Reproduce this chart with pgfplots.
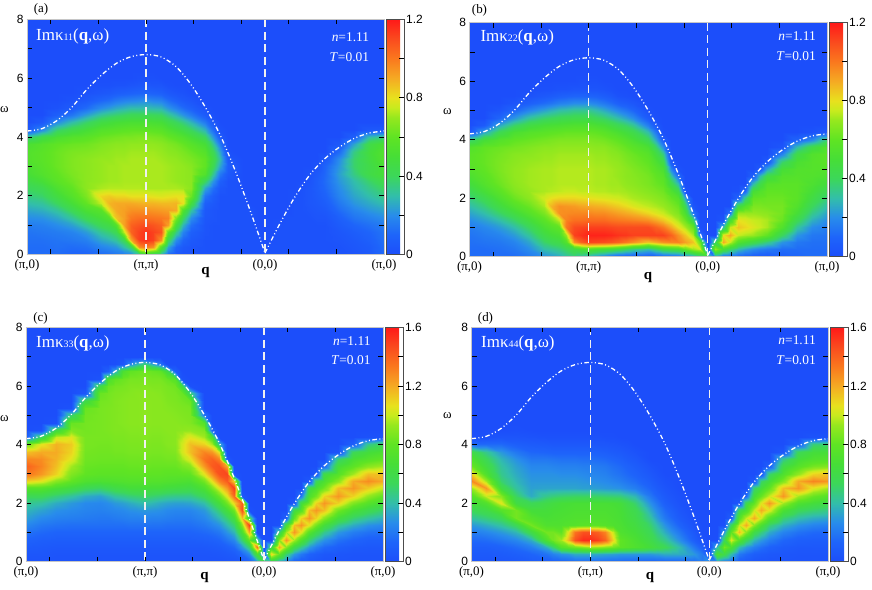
\documentclass[border=0pt]{standalone}
\usepackage{fontspec}
\setmainfont{Liberation Serif}
\newfontfamily\sansfont{Liberation Sans}
\usepackage{pgfplots}
\usepackage{pgfplotstable}
\pgfplotsset{compat=1.18}
\definecolor{bgblue}{RGB}{28,78,250}
\pgfplotsset{
 colormap={myjet}{rgb255(0cm)=(28,78,250) rgb255(2cm)=(30,100,250) rgb255(4cm)=(40,140,235) rgb255(6cm)=(50,190,170) rgb255(8cm)=(60,215,90) rgb255(10cm)=(70,222,55) rgb255(12cm)=(95,228,35) rgb255(14cm)=(150,232,30) rgb255(15cm)=(200,235,30) rgb255(16cm)=(232,225,30) rgb255(18cm)=(245,170,35) rgb255(20cm)=(250,120,30) rgb255(22cm)=(250,75,30) rgb255(24cm)=(255,25,25)},
 panel/.style={
  scale only axis, enlargelimits=false, xmin=0, xmax=3, ymin=0, ymax=8,
  anchor=south west,
  axis on top, axis background/.style={fill=bgblue},
  colormap name=myjet,
  tick align=inside, major tick length=5bp, minor tick length=5bp,
  tick style={black, line width=0.7bp},
  axis line style={draw=gray!45, line width=0.5bp},
  xtick={0.2,0.6,1,1.4,1.8,2.2,2.6}, xticklabels={,,,,,,},
  extra x ticks={0,1,2,3},
  extra x tick labels={{(π,0)},{(π,π)},{(0,0)},{(π,0)}},
  extra x tick style={major tick length=0pt, xticklabel style={font=\fontsize{13}{13}\selectfont, yshift=-1bp}},
  ytick={0,2,4,6,8}, yticklabels={0,2,4,6,8}, minor ytick={1,3,5,7},
  yticklabel style={font=\sansfont\fontsize{12}{12}\selectfont},
  colorbar,
  colorbar shift/.style={xshift=2bp},
  colorbar style={
   at={(parent axis.north east)}, anchor=north west,
   width=18bp, scale only axis,
   ytick pos=right, yticklabel pos=right,
   tick align=inside, major tick length=5bp, minor tick length=5bp,
   tick style={black, line width=0.7bp},
   axis line style={draw=gray!60!black, line width=0.6bp},
   yticklabel style={font=\sansfont\fontsize{12}{12}\selectfont, inner sep=2bp},
  },
 },
 vdash/.style={white!88!gray, line width=1.2bp, dash pattern=on 8bp off 4.5bp},
 bound/.style={white, line width=1.3bp, smooth, dash pattern=on 4.5bp off 2.5bp on 1bp off 2.5bp on 1bp off 2.5bp},
}
\pgfplotstableread{
x y a b c d
0 0 0.12 0.12 0.03 0.05
0 0.25 0.12 0.12 0.05 0.07
0 0.5 0.13 0.13 0.08 0.1
0 0.75 0.14 0.14 0.12 0.15
0 1 0.16 0.16 0.18 0.22
0 1.25 0.2 0.2 0.25 0.3
0 1.5 0.25 0.25 0.32 0.42
0 1.75 0.3 0.3 0.38 0.55
0 2 0.35 0.36 0.45 0.65
0 2.25 0.4 0.42 0.55 0.75
0 2.5 0.45 0.48 0.75 0.95
0 2.75 0.5 0.53 1.1 1.3
0 3 0.52 0.56 1.35 1.1
0 3.25 0.55 0.58 1.4 0.82
0 3.5 0.55 0.58 1.3 0.72
0 3.75 0.52 0.55 1.15 0.6
0 4 0.35 0.38 0.85 0.15
0 4.25 0.05 0.05 0.1 0
0 4.5 0 0 0 0
0 4.75 0 0 0 0
0 5 0 0 0 0
0 5.25 0 0 0 0
0 5.5 0 0 0 0
0 5.75 0 0 0 0
0 6 0 0 0 0
0 6.25 0 0 0 0
0 6.5 0 0 0 0
0 6.75 0 0 0 0
0 7 0 0 0 0
0.125 0 0.12 0.12 0.03 0.05
0.125 0.25 0.12 0.12 0.05 0.07
0.125 0.5 0.13 0.14 0.07 0.1
0.125 0.75 0.15 0.16 0.1 0.16
0.125 1 0.17 0.19 0.15 0.25
0.125 1.25 0.21 0.24 0.2 0.35
0.125 1.5 0.27 0.3 0.26 0.48
0.125 1.75 0.32 0.36 0.33 0.6
0.125 2 0.38 0.43 0.42 0.72
0.125 2.25 0.43 0.5 0.55 1
0.125 2.5 0.5 0.55 0.75 1.25
0.125 2.75 0.55 0.58 1.05 0.95
0.125 3 0.57 0.6 1.25 0.72
0.125 3.25 0.58 0.61 1.3 0.62
0.125 3.5 0.58 0.61 1.28 0.55
0.125 3.75 0.56 0.6 1.2 0.45
0.125 4 0.45 0.5 1.05 0.15
0.125 4.25 0.2 0.25 0.55 0.02
0.125 4.5 0.05 0.06 0.02 0
0.125 4.75 0 0 0 0
0.125 5 0 0 0 0
0.125 5.25 0 0 0 0
0.125 5.5 0 0 0 0
0.125 5.75 0 0 0 0
0.125 6 0 0 0 0
0.125 6.25 0 0 0 0
0.125 6.5 0 0 0 0
0.125 6.75 0 0 0 0
0.125 7 0 0 0 0
0.25 0 0.12 0.12 0.03 0.05
0.25 0.25 0.13 0.13 0.04 0.08
0.25 0.5 0.14 0.15 0.06 0.12
0.25 0.75 0.16 0.18 0.09 0.2
0.25 1 0.2 0.23 0.13 0.3
0.25 1.25 0.25 0.3 0.18 0.42
0.25 1.5 0.32 0.38 0.23 0.55
0.25 1.75 0.4 0.46 0.28 0.75
0.25 2 0.47 0.53 0.35 1.05
0.25 2.25 0.53 0.58 0.48 0.9
0.25 2.5 0.58 0.62 0.68 0.62
0.25 2.75 0.6 0.64 0.9 0.5
0.25 3 0.62 0.65 1.1 0.45
0.25 3.25 0.62 0.65 1.15 0.42
0.25 3.5 0.62 0.64 1.18 0.38
0.25 3.75 0.6 0.62 1.2 0.3
0.25 4 0.52 0.56 1.18 0.15
0.25 4.25 0.38 0.42 1 0.04
0.25 4.5 0.2 0.25 0.6 0
0.25 4.75 0.08 0.1 0.02 0
0.25 5 0.02 0.03 0 0
0.25 5.25 0 0 0 0
0.25 5.5 0 0 0 0
0.25 5.75 0 0 0 0
0.25 6 0 0 0 0
0.25 6.25 0 0 0 0
0.25 6.5 0 0 0 0
0.25 6.75 0 0 0 0
0.25 7 0 0 0 0
0.375 0 0.1 0.12 0.03 0.06
0.375 0.25 0.12 0.15 0.04 0.1
0.375 0.5 0.15 0.18 0.06 0.16
0.375 0.75 0.18 0.23 0.09 0.25
0.375 1 0.24 0.3 0.13 0.38
0.375 1.25 0.32 0.38 0.17 0.55
0.375 1.5 0.42 0.47 0.22 0.85
0.375 1.75 0.5 0.55 0.26 0.85
0.375 2 0.56 0.62 0.3 0.62
0.375 2.25 0.6 0.66 0.42 0.52
0.375 2.5 0.63 0.68 0.62 0.42
0.375 2.75 0.65 0.69 0.8 0.38
0.375 3 0.66 0.69 0.88 0.35
0.375 3.25 0.66 0.68 0.95 0.32
0.375 3.5 0.65 0.67 1.05 0.28
0.375 3.75 0.62 0.64 1.1 0.2
0.375 4 0.56 0.6 1.12 0.1
0.375 4.25 0.45 0.52 1.05 0.04
0.375 4.5 0.3 0.38 0.88 0.01
0.375 4.75 0.15 0.22 0.82 0
0.375 5 0.06 0.1 0.5 0
0.375 5.25 0.02 0.03 0.02 0
0.375 5.5 0 0 0 0
0.375 5.75 0 0 0 0
0.375 6 0 0 0 0
0.375 6.25 0 0 0 0
0.375 6.5 0 0 0 0
0.375 6.75 0 0 0 0
0.375 7 0 0 0 0
0.5 0 0.1 0.15 0.03 0.08
0.5 0.25 0.13 0.2 0.04 0.13
0.5 0.5 0.17 0.25 0.06 0.22
0.5 0.75 0.23 0.32 0.09 0.35
0.5 1 0.32 0.4 0.13 0.6
0.5 1.25 0.42 0.48 0.17 0.85
0.5 1.5 0.52 0.56 0.21 0.75
0.5 1.75 0.6 0.62 0.24 0.65
0.5 2 0.65 0.68 0.26 0.55
0.5 2.25 0.68 0.7 0.35 0.35
0.5 2.5 0.68 0.71 0.55 0.32
0.5 2.75 0.68 0.71 0.72 0.3
0.5 3 0.68 0.71 0.8 0.28
0.5 3.25 0.68 0.7 0.82 0.25
0.5 3.5 0.66 0.68 0.84 0.2
0.5 3.75 0.63 0.66 0.85 0.14
0.5 4 0.58 0.62 0.86 0.08
0.5 4.25 0.5 0.56 0.86 0.03
0.5 4.5 0.38 0.46 0.85 0
0.5 4.75 0.24 0.32 0.85 0
0.5 5 0.12 0.18 0.84 0
0.5 5.25 0.05 0.08 0.82 0
0.5 5.5 0.02 0.02 0.6 0
0.5 5.75 0 0 0.05 0
0.5 6 0 0 0 0
0.5 6.25 0 0 0 0
0.5 6.5 0 0 0 0
0.5 6.75 0 0 0 0
0.5 7 0 0 0 0
0.625 0 0.12 0.2 0.03 0.1
0.625 0.25 0.18 0.3 0.04 0.18
0.625 0.5 0.25 0.38 0.06 0.35
0.625 0.75 0.33 0.45 0.09 0.7
0.625 1 0.42 0.52 0.13 0.85
0.625 1.25 0.5 0.58 0.17 0.72
0.625 1.5 0.57 0.65 0.2 0.68
0.625 1.75 0.75 0.72 0.23 0.65
0.625 2 0.82 0.76 0.25 0.6
0.625 2.25 0.72 0.72 0.32 0.45
0.625 2.5 0.7 0.72 0.52 0.33
0.625 2.75 0.7 0.72 0.7 0.3
0.625 3 0.7 0.72 0.78 0.28
0.625 3.25 0.7 0.71 0.81 0.25
0.625 3.5 0.68 0.7 0.83 0.2
0.625 3.75 0.66 0.68 0.84 0.13
0.625 4 0.62 0.64 0.85 0.07
0.625 4.25 0.56 0.58 0.86 0.02
0.625 4.5 0.46 0.5 0.86 0
0.625 4.75 0.33 0.38 0.86 0
0.625 5 0.2 0.24 0.86 0
0.625 5.25 0.1 0.12 0.86 0
0.625 5.5 0.04 0.05 0.85 0
0.625 5.75 0.01 0.01 0.82 0
0.625 6 0 0 0.6 0
0.625 6.25 0 0 0.03 0
0.625 6.5 0 0 0 0
0.625 6.75 0 0 0 0
0.625 7 0 0 0 0
0.6875 0 0.13 0.22 0.03 0.11
0.6875 0.25 0.2 0.32 0.04 0.23
0.6875 0.5 0.28 0.42 0.06 0.5
0.6875 0.75 0.37 0.49 0.09 0.85
0.6875 1 0.46 0.56 0.13 0.85
0.6875 1.25 0.55 0.64 0.17 0.72
0.6875 1.5 0.8 0.75 0.2 0.69
0.6875 1.75 0.88 0.88 0.24 0.67
0.6875 2 0.84 0.8 0.27 0.63
0.6875 2.25 0.73 0.73 0.37 0.48
0.6875 2.5 0.71 0.72 0.56 0.33
0.6875 2.75 0.71 0.72 0.71 0.3
0.6875 3 0.71 0.72 0.78 0.28
0.6875 3.25 0.7 0.71 0.81 0.24
0.6875 3.5 0.69 0.7 0.83 0.19
0.6875 3.75 0.67 0.68 0.84 0.12
0.6875 4 0.63 0.65 0.85 0.06
0.6875 4.25 0.57 0.59 0.86 0.02
0.6875 4.5 0.48 0.51 0.87 0
0.6875 4.75 0.36 0.4 0.87 0
0.6875 5 0.23 0.27 0.87 0
0.6875 5.25 0.12 0.14 0.87 0
0.6875 5.5 0.05 0.06 0.86 0
0.6875 5.75 0.01 0.01 0.85 0
0.6875 6 0 0 0.82 0
0.6875 6.25 0 0 0.7 0
0.6875 6.5 0 0 0.1 0
0.6875 6.75 0 0 0 0
0.6875 7 0 0 0 0
0.75 0 0.15 0.25 0.03 0.12
0.75 0.25 0.22 0.35 0.04 0.28
0.75 0.5 0.32 0.45 0.06 0.75
0.75 0.75 0.42 0.52 0.09 0.95
0.75 1 0.55 0.6 0.13 0.8
0.75 1.25 0.85 0.75 0.17 0.72
0.75 1.5 0.9 0.95 0.21 0.7
0.75 1.75 0.9 0.95 0.25 0.68
0.75 2 0.82 0.82 0.3 0.66
0.75 2.25 0.73 0.74 0.42 0.5
0.75 2.5 0.71 0.73 0.6 0.33
0.75 2.75 0.71 0.73 0.72 0.3
0.75 3 0.71 0.73 0.78 0.27
0.75 3.25 0.71 0.72 0.81 0.23
0.75 3.5 0.7 0.71 0.83 0.18
0.75 3.75 0.68 0.69 0.85 0.12
0.75 4 0.64 0.66 0.86 0.06
0.75 4.25 0.58 0.6 0.87 0.02
0.75 4.5 0.5 0.52 0.88 0
0.75 4.75 0.38 0.42 0.88 0
0.75 5 0.26 0.3 0.88 0
0.75 5.25 0.15 0.17 0.88 0
0.75 5.5 0.07 0.08 0.88 0
0.75 5.75 0.02 0.02 0.87 0
0.75 6 0 0 0.85 0
0.75 6.25 0 0 0.8 0
0.75 6.5 0 0 0.35 0
0.75 6.75 0 0 0.01 0
0.75 7 0 0 0 0
0.8125 0 0.17 0.3 0.03 0.13
0.8125 0.25 0.3 0.4 0.04 0.3
0.8125 0.5 0.42 0.55 0.06 0.8
0.8125 0.75 0.75 0.7 0.09 1.15
0.8125 1 0.92 1 0.13 1.05
0.8125 1.25 0.92 0.98 0.17 0.74
0.8125 1.5 0.92 0.96 0.22 0.71
0.8125 1.75 0.9 0.94 0.26 0.69
0.8125 2 0.82 0.82 0.32 0.67
0.8125 2.25 0.73 0.75 0.45 0.51
0.8125 2.5 0.72 0.73 0.62 0.33
0.8125 2.75 0.72 0.73 0.73 0.3
0.8125 3 0.72 0.73 0.78 0.27
0.8125 3.25 0.71 0.72 0.81 0.23
0.8125 3.5 0.7 0.71 0.83 0.18
0.8125 3.75 0.68 0.69 0.85 0.12
0.8125 4 0.65 0.66 0.86 0.06
0.8125 4.25 0.59 0.61 0.87 0.02
0.8125 4.5 0.51 0.53 0.88 0
0.8125 4.75 0.4 0.43 0.89 0
0.8125 5 0.28 0.31 0.89 0
0.8125 5.25 0.17 0.18 0.89 0
0.8125 5.5 0.08 0.09 0.89 0
0.8125 5.75 0.02 0.02 0.88 0
0.8125 6 0 0 0.86 0
0.8125 6.25 0 0 0.83 0
0.8125 6.5 0 0 0.7 0
0.8125 6.75 0 0 0.05 0
0.8125 7 0 0 0 0
0.875 0 0.2 0.35 0.03 0.15
0.875 0.25 0.4 0.45 0.04 0.35
0.875 0.5 0.9 0.95 0.06 0.85
0.875 0.75 1.05 1.12 0.09 1.45
0.875 1 1.05 1.1 0.13 1.35
0.875 1.25 1 1.02 0.18 0.75
0.875 1.5 0.95 0.97 0.23 0.72
0.875 1.75 0.9 0.93 0.28 0.7
0.875 2 0.8 0.82 0.35 0.68
0.875 2.25 0.73 0.75 0.48 0.52
0.875 2.5 0.72 0.73 0.65 0.33
0.875 2.75 0.72 0.73 0.74 0.3
0.875 3 0.72 0.73 0.79 0.27
0.875 3.25 0.72 0.72 0.82 0.23
0.875 3.5 0.71 0.71 0.84 0.18
0.875 3.75 0.69 0.69 0.86 0.12
0.875 4 0.65 0.66 0.87 0.06
0.875 4.25 0.6 0.61 0.88 0.02
0.875 4.5 0.52 0.54 0.89 0
0.875 4.75 0.42 0.44 0.9 0
0.875 5 0.3 0.33 0.9 0
0.875 5.25 0.18 0.2 0.9 0
0.875 5.5 0.09 0.1 0.9 0
0.875 5.75 0.03 0.03 0.89 0
0.875 6 0 0 0.88 0
0.875 6.25 0 0 0.86 0
0.875 6.5 0 0 0.8 0
0.875 6.75 0 0 0.25 0
0.875 7 0 0 0 0
0.9375 0 0.35 0.3 0.03 0.15
0.9375 0.25 0.95 0.5 0.04 0.35
0.9375 0.5 1.12 1.05 0.06 0.9
0.9375 0.75 1.12 1.15 0.09 1.55
0.9375 1 1.08 1.11 0.13 1.45
0.9375 1.25 1.02 1.02 0.18 0.77
0.9375 1.5 0.95 0.97 0.23 0.72
0.9375 1.75 0.89 0.91 0.29 0.7
0.9375 2 0.8 0.81 0.38 0.68
0.9375 2.25 0.73 0.74 0.5 0.52
0.9375 2.5 0.72 0.73 0.65 0.32
0.9375 2.75 0.72 0.73 0.74 0.29
0.9375 3 0.72 0.73 0.79 0.26
0.9375 3.25 0.72 0.72 0.82 0.22
0.9375 3.5 0.71 0.71 0.84 0.17
0.9375 3.75 0.69 0.69 0.86 0.12
0.9375 4 0.66 0.66 0.87 0.06
0.9375 4.25 0.6 0.61 0.88 0.02
0.9375 4.5 0.52 0.54 0.89 0
0.9375 4.75 0.42 0.44 0.9 0
0.9375 5 0.3 0.33 0.9 0
0.9375 5.25 0.19 0.2 0.9 0
0.9375 5.5 0.1 0.1 0.9 0
0.9375 5.75 0.04 0.03 0.9 0
0.9375 6 0.01 0.01 0.88 0
0.9375 6.25 0 0 0.86 0
0.9375 6.5 0 0 0.82 0
0.9375 6.75 0 0 0.4 0
0.9375 7 0 0 0 0
1 0 0.5 0.25 0.03 0.15
1 0.25 1 0.55 0.04 0.35
1 0.5 1.15 1.12 0.06 0.95
1 0.75 1.15 1.18 0.09 1.55
1 1 1.1 1.12 0.13 1.45
1 1.25 1.02 1.03 0.18 0.78
1 1.5 0.95 0.97 0.24 0.72
1 1.75 0.88 0.9 0.3 0.7
1 2 0.8 0.8 0.4 0.68
1 2.25 0.72 0.74 0.52 0.52
1 2.5 0.72 0.73 0.66 0.32
1 2.75 0.72 0.73 0.75 0.28
1 3 0.72 0.73 0.8 0.25
1 3.25 0.72 0.72 0.83 0.22
1 3.5 0.71 0.71 0.85 0.17
1 3.75 0.69 0.69 0.87 0.12
1 4 0.66 0.66 0.88 0.06
1 4.25 0.6 0.61 0.89 0.02
1 4.5 0.52 0.54 0.9 0
1 4.75 0.42 0.44 0.91 0
1 5 0.3 0.33 0.91 0
1 5.25 0.2 0.2 0.91 0
1 5.5 0.1 0.1 0.91 0
1 5.75 0.04 0.03 0.9 0
1 6 0.01 0.01 0.89 0
1 6.25 0 0 0.87 0
1 6.5 0 0 0.84 0
1 6.75 0 0 0.5 0
1 7 0 0 0 0
1.0625 0 0.4 0.2 0.03 0.15
1.0625 0.25 0.95 0.52 0.04 0.34
1.0625 0.5 1.12 1.11 0.06 0.93
1.0625 0.75 1.12 1.18 0.09 1.5
1.0625 1 1.08 1.12 0.13 1.4
1.0625 1.25 1.01 1.03 0.18 0.77
1.0625 1.5 0.94 0.96 0.23 0.72
1.0625 1.75 0.88 0.89 0.29 0.7
1.0625 2 0.79 0.79 0.38 0.68
1.0625 2.25 0.72 0.73 0.5 0.51
1.0625 2.5 0.72 0.72 0.65 0.31
1.0625 2.75 0.72 0.72 0.74 0.27
1.0625 3 0.72 0.72 0.79 0.24
1.0625 3.25 0.72 0.71 0.82 0.21
1.0625 3.5 0.71 0.7 0.84 0.16
1.0625 3.75 0.69 0.68 0.86 0.11
1.0625 4 0.65 0.65 0.87 0.05
1.0625 4.25 0.59 0.6 0.88 0.02
1.0625 4.5 0.51 0.52 0.89 0
1.0625 4.75 0.41 0.41 0.9 0
1.0625 5 0.29 0.3 0.9 0
1.0625 5.25 0.18 0.18 0.9 0
1.0625 5.5 0.09 0.09 0.9 0
1.0625 5.75 0.03 0.03 0.9 0
1.0625 6 0.01 0.01 0.88 0
1.0625 6.25 0 0 0.86 0
1.0625 6.5 0 0 0.82 0
1.0625 6.75 0 0 0.35 0
1.0625 7 0 0 0 0
1.125 0 0.3 0.15 0.03 0.15
1.125 0.25 0.55 0.5 0.04 0.33
1.125 0.5 0.95 1.1 0.06 0.9
1.125 0.75 1.08 1.18 0.09 1.4
1.125 1 1.05 1.12 0.13 1.3
1.125 1.25 1 1.03 0.18 0.75
1.125 1.5 0.93 0.96 0.23 0.72
1.125 1.75 0.87 0.88 0.28 0.7
1.125 2 0.78 0.78 0.35 0.68
1.125 2.25 0.72 0.73 0.48 0.5
1.125 2.5 0.72 0.72 0.65 0.3
1.125 2.75 0.72 0.72 0.74 0.26
1.125 3 0.72 0.72 0.79 0.23
1.125 3.25 0.71 0.71 0.82 0.2
1.125 3.5 0.7 0.7 0.84 0.15
1.125 3.75 0.68 0.68 0.86 0.1
1.125 4 0.64 0.64 0.87 0.05
1.125 4.25 0.58 0.58 0.88 0.01
1.125 4.5 0.5 0.5 0.89 0
1.125 4.75 0.4 0.38 0.9 0
1.125 5 0.28 0.26 0.9 0
1.125 5.25 0.17 0.15 0.9 0
1.125 5.5 0.08 0.07 0.9 0
1.125 5.75 0.03 0.02 0.89 0
1.125 6 0 0 0.88 0
1.125 6.25 0 0 0.86 0
1.125 6.5 0 0 0.8 0
1.125 6.75 0 0 0.2 0
1.125 7 0 0 0 0
1.1875 0 0.12 0.1 0.03 0.14
1.1875 0.25 0.25 0.48 0.04 0.32
1.1875 0.5 0.42 1.08 0.06 0.85
1.1875 0.75 0.6 1.17 0.09 1.1
1.1875 1 0.92 1.11 0.13 1
1.1875 1.25 0.98 1.01 0.17 0.72
1.1875 1.5 0.92 0.94 0.22 0.7
1.1875 1.75 0.87 0.86 0.26 0.69
1.1875 2 0.79 0.77 0.33 0.67
1.1875 2.25 0.72 0.72 0.46 0.49
1.1875 2.5 0.71 0.71 0.63 0.29
1.1875 2.75 0.71 0.71 0.73 0.24
1.1875 3 0.71 0.71 0.78 0.2
1.1875 3.25 0.7 0.7 0.82 0.17
1.1875 3.5 0.68 0.68 0.85 0.13
1.1875 3.75 0.66 0.66 0.87 0.08
1.1875 4 0.61 0.62 0.89 0.04
1.1875 4.25 0.54 0.55 0.89 0.01
1.1875 4.5 0.45 0.46 0.9 0
1.1875 4.75 0.34 0.34 0.9 0
1.1875 5 0.22 0.22 0.9 0
1.1875 5.25 0.12 0.12 0.89 0
1.1875 5.5 0.05 0.05 0.88 0
1.1875 5.75 0.01 0.01 0.87 0
1.1875 6 0 0 0.86 0
1.1875 6.25 0 0 0.82 0
1.1875 6.5 0 0 0.6 0
1.1875 6.75 0 0 0 0
1.1875 7 0 0 0 0
1.25 0 0.05 0.06 0.03 0.14
1.25 0.25 0.1 0.45 0.04 0.3
1.25 0.5 0.2 1.05 0.06 0.78
1.25 0.75 0.35 1.15 0.09 0.8
1.25 1 0.5 1.1 0.13 0.72
1.25 1.25 0.65 1 0.17 0.7
1.25 1.5 0.9 0.92 0.21 0.68
1.25 1.75 0.88 0.84 0.25 0.67
1.25 2 0.8 0.76 0.32 0.65
1.25 2.25 0.72 0.72 0.45 0.48
1.25 2.5 0.7 0.71 0.62 0.28
1.25 2.75 0.7 0.7 0.72 0.22
1.25 3 0.7 0.7 0.78 0.18
1.25 3.25 0.69 0.69 0.82 0.15
1.25 3.5 0.67 0.67 0.85 0.11
1.25 3.75 0.64 0.64 0.88 0.07
1.25 4 0.58 0.6 0.9 0.03
1.25 4.25 0.5 0.52 0.9 0
1.25 4.5 0.4 0.42 0.9 0
1.25 4.75 0.28 0.3 0.9 0
1.25 5 0.17 0.18 0.89 0
1.25 5.25 0.08 0.08 0.88 0
1.25 5.5 0.03 0.02 0.87 0
1.25 5.75 0 0 0.86 0
1.25 6 0 0 0.84 0
1.25 6.25 0 0 0.75 0
1.25 6.5 0 0 0.1 0
1.25 6.75 0 0 0 0
1.25 7 0 0 0 0
1.3125 0 0.03 0.05 0.03 0.13
1.3125 0.25 0.05 0.4 0.04 0.3
1.3125 0.5 0.1 1 0.06 0.75
1.3125 0.75 0.18 1.14 0.09 0.75
1.3125 1 0.28 1.1 0.13 0.69
1.3125 1.25 0.4 0.99 0.17 0.66
1.3125 1.5 0.55 0.9 0.21 0.64
1.3125 1.75 0.8 0.81 0.25 0.62
1.3125 2 0.8 0.74 0.32 0.58
1.3125 2.25 0.71 0.71 0.45 0.43
1.3125 2.5 0.69 0.69 0.61 0.25
1.3125 2.75 0.69 0.68 0.71 0.19
1.3125 3 0.69 0.68 0.79 0.15
1.3125 3.25 0.67 0.66 0.86 0.12
1.3125 3.5 0.65 0.64 0.95 0.08
1.3125 3.75 0.61 0.61 1.02 0.05
1.3125 4 0.55 0.56 1.02 0.02
1.3125 4.25 0.46 0.48 0.97 0
1.3125 4.5 0.35 0.38 0.91 0
1.3125 4.75 0.22 0.25 0.89 0
1.3125 5 0.12 0.14 0.88 0
1.3125 5.25 0.05 0.06 0.87 0
1.3125 5.5 0.02 0.01 0.85 0
1.3125 5.75 0 0 0.82 0
1.3125 6 0 0 0.62 0
1.3125 6.25 0 0 0.03 0
1.3125 6.5 0 0 0 0
1.3125 6.75 0 0 0 0
1.3125 7 0 0 0 0
1.375 0 0.02 0.05 0.03 0.13
1.375 0.25 0.03 0.35 0.04 0.3
1.375 0.5 0.05 0.95 0.06 0.72
1.375 0.75 0.08 1.12 0.09 0.7
1.375 1 0.13 1.1 0.13 0.66
1.375 1.25 0.2 0.98 0.17 0.63
1.375 1.5 0.32 0.88 0.21 0.6
1.375 1.75 0.48 0.78 0.25 0.57
1.375 2 0.62 0.72 0.33 0.5
1.375 2.25 0.68 0.7 0.45 0.38
1.375 2.5 0.68 0.68 0.6 0.22
1.375 2.75 0.68 0.67 0.7 0.16
1.375 3 0.67 0.66 0.8 0.12
1.375 3.25 0.65 0.64 0.9 0.09
1.375 3.5 0.62 0.62 1.05 0.06
1.375 3.75 0.57 0.58 1.15 0.03
1.375 4 0.5 0.52 1.15 0
1.375 4.25 0.4 0.44 1.05 0
1.375 4.5 0.28 0.33 0.92 0
1.375 4.75 0.16 0.2 0.88 0
1.375 5 0.08 0.1 0.87 0
1.375 5.25 0.03 0.04 0.86 0
1.375 5.5 0 0 0.82 0
1.375 5.75 0 0 0.5 0
1.375 6 0 0 0.02 0
1.375 6.25 0 0 0 0
1.375 6.5 0 0 0 0
1.375 6.75 0 0 0 0
1.375 7 0 0 0 0
1.5 0 0.02 0.05 0.03 0.12
1.5 0.25 0.02 0.3 0.04 0.3
1.5 0.5 0.02 0.85 0.06 0.65
1.5 0.75 0.03 1.12 0.1 0.6
1.5 1 0.03 1.1 0.15 0.55
1.5 1.25 0.04 0.95 0.2 0.5
1.5 1.5 0.05 0.82 0.25 0.43
1.5 1.75 0.08 0.74 0.3 0.35
1.5 2 0.14 0.7 0.4 0.28
1.5 2.25 0.25 0.67 0.55 0.2
1.5 2.5 0.4 0.65 0.7 0.13
1.5 2.75 0.55 0.64 0.85 0.09
1.5 3 0.6 0.62 1.05 0.06
1.5 3.25 0.6 0.6 1.25 0.03
1.5 3.5 0.56 0.57 1.35 0
1.5 3.75 0.5 0.52 1.3 0
1.5 4 0.4 0.42 1.1 0
1.5 4.25 0.28 0.3 0.95 0
1.5 4.5 0.15 0.16 0.88 0
1.5 4.75 0.06 0.06 0.75 0
1.5 5 0.02 0.01 0.2 0
1.5 5.25 0 0 0 0
1.5 5.5 0 0 0 0
1.5 5.75 0 0 0 0
1.5 6 0 0 0 0
1.5 6.25 0 0 0 0
1.5 6.5 0 0 0 0
1.5 6.75 0 0 0 0
1.5 7 0 0 0 0
1.5625 0 0.02 0.06 0.03 0.12
1.5625 0.25 0.02 0.38 0.045 0.32
1.5625 0.5 0.02 0.9 0.07 0.6
1.5625 0.75 0.02 1.12 0.11 0.52
1.5625 1 0.02 1.05 0.17 0.45
1.5625 1.25 0.03 0.9 0.24 0.39
1.5625 1.5 0.03 0.78 0.31 0.31
1.5625 1.75 0.05 0.72 0.4 0.25
1.5625 2 0.07 0.68 0.52 0.19
1.5625 2.25 0.13 0.65 0.68 0.13
1.5625 2.5 0.22 0.62 0.87 0.08
1.5625 2.75 0.33 0.6 1.07 0.05
1.5625 3 0.42 0.57 1.28 0.03
1.5625 3.25 0.46 0.53 1.42 0.01
1.5625 3.5 0.42 0.47 1.4 0
1.5625 3.75 0.33 0.38 1.25 0
1.5625 4 0.22 0.25 0.95 0
1.5625 4.25 0.12 0.14 0.7 0
1.5625 4.5 0.05 0.05 0.1 0
1.5625 4.75 0.01 0.01 0 0
1.5625 5 0 0 0 0
1.5625 5.25 0 0 0 0
1.5625 5.5 0 0 0 0
1.5625 5.75 0 0 0 0
1.5625 6 0 0 0 0
1.5625 6.25 0 0 0 0
1.5625 6.5 0 0 0 0
1.5625 6.75 0 0 0 0
1.5625 7 0 0 0 0
1.625 0 0.02 0.08 0.03 0.12
1.625 0.25 0.02 0.45 0.05 0.35
1.625 0.5 0.02 0.95 0.08 0.55
1.625 0.75 0.02 1.12 0.13 0.45
1.625 1 0.02 1 0.2 0.35
1.625 1.25 0.02 0.85 0.28 0.28
1.625 1.5 0.02 0.75 0.38 0.2
1.625 1.75 0.02 0.7 0.5 0.15
1.625 2 0.02 0.66 0.65 0.1
1.625 2.25 0.04 0.63 0.82 0.07
1.625 2.5 0.08 0.6 1.05 0.04
1.625 2.75 0.15 0.57 1.3 0.02
1.625 3 0.25 0.52 1.45 0
1.625 3.25 0.3 0.45 1.45 0
1.625 3.5 0.25 0.35 1.3 0
1.625 3.75 0.15 0.2 1.05 0
1.625 4 0.06 0.07 0.4 0
1.625 4.25 0.02 0.01 0 0
1.625 4.5 0 0 0 0
1.625 4.75 0 0 0 0
1.625 5 0 0 0 0
1.625 5.25 0 0 0 0
1.625 5.5 0 0 0 0
1.625 5.75 0 0 0 0
1.625 6 0 0 0 0
1.625 6.25 0 0 0 0
1.625 6.5 0 0 0 0
1.625 6.75 0 0 0 0
1.625 7 0 0 0 0
1.6875 0 0.02 0.09 0.035 0.12
1.6875 0.25 0.02 0.48 0.065 0.35
1.6875 0.5 0.02 0.97 0.11 0.48
1.6875 0.75 0.02 1.05 0.19 0.36
1.6875 1 0.02 0.9 0.29 0.27
1.6875 1.25 0.02 0.78 0.39 0.2
1.6875 1.5 0.02 0.7 0.5 0.14
1.6875 1.75 0.02 0.66 0.66 0.1
1.6875 2 0.02 0.61 0.85 0.06
1.6875 2.25 0.02 0.54 1.05 0.04
1.6875 2.5 0.02 0.45 1.25 0.02
1.6875 2.75 0.05 0.32 1.42 0.01
1.6875 3 0.07 0.18 1.48 0
1.6875 3.25 0.05 0.06 1.2 0
1.6875 3.5 0.01 0 0.05 0
1.6875 3.75 0 0 0 0
1.6875 4 0 0 0 0
1.6875 4.25 0 0 0 0
1.6875 4.5 0 0 0 0
1.6875 4.75 0 0 0 0
1.6875 5 0 0 0 0
1.6875 5.25 0 0 0 0
1.6875 5.5 0 0 0 0
1.6875 5.75 0 0 0 0
1.6875 6 0 0 0 0
1.6875 6.25 0 0 0 0
1.6875 6.5 0 0 0 0
1.6875 6.75 0 0 0 0
1.6875 7 0 0 0 0
1.75 0 0.02 0.1 0.04 0.12
1.75 0.25 0.02 0.5 0.08 0.35
1.75 0.5 0.02 0.98 0.15 0.4
1.75 0.75 0.02 0.95 0.25 0.28
1.75 1 0.02 0.8 0.38 0.2
1.75 1.25 0.02 0.72 0.5 0.13
1.75 1.5 0.02 0.66 0.65 0.08
1.75 1.75 0.02 0.62 0.85 0.05
1.75 2 0.02 0.56 1.1 0.03
1.75 2.25 0.02 0.45 1.38 0.02
1.75 2.5 0.02 0.3 1.5 0
1.75 2.75 0.02 0.12 1.1 0
1.75 3 0.04 0.02 0.05 0
1.75 3.25 0.02 0 0 0
1.75 3.5 0 0 0 0
1.75 3.75 0 0 0 0
1.75 4 0 0 0 0
1.75 4.25 0 0 0 0
1.75 4.5 0 0 0 0
1.75 4.75 0 0 0 0
1.75 5 0 0 0 0
1.75 5.25 0 0 0 0
1.75 5.5 0 0 0 0
1.75 5.75 0 0 0 0
1.75 6 0 0 0 0
1.75 6.25 0 0 0 0
1.75 6.5 0 0 0 0
1.75 6.75 0 0 0 0
1.75 7 0 0 0 0
1.8125 0 0.02 0.15 0.06 0.13
1.8125 0.25 0.02 0.6 0.15 0.33
1.8125 0.5 0.02 0.92 0.3 0.3
1.8125 0.75 0.02 0.85 0.5 0.18
1.8125 1 0.02 0.72 0.7 0.12
1.8125 1.25 0.02 0.62 0.9 0.07
1.8125 1.5 0.02 0.52 1.15 0.04
1.8125 1.75 0.02 0.42 1.45 0.02
1.8125 2 0.02 0.25 1.4 0.01
1.8125 2.25 0 0.02 0.05 0
1.8125 2.5 0 0 0 0
1.8125 2.75 0 0 0 0
1.8125 3 0 0 0 0
1.8125 3.25 0 0 0 0
1.8125 3.5 0 0 0 0
1.8125 3.75 0 0 0 0
1.8125 4 0 0 0 0
1.8125 4.25 0 0 0 0
1.8125 4.5 0 0 0 0
1.8125 4.75 0 0 0 0
1.8125 5 0 0 0 0
1.8125 5.25 0 0 0 0
1.8125 5.5 0 0 0 0
1.8125 5.75 0 0 0 0
1.8125 6 0 0 0 0
1.8125 6.25 0 0 0 0
1.8125 6.5 0 0 0 0
1.8125 6.75 0 0 0 0
1.8125 7 0 0 0 0
1.875 0 0.02 0.2 0.1 0.15
1.875 0.25 0.02 0.7 0.25 0.3
1.875 0.5 0.02 0.85 0.5 0.2
1.875 0.75 0.02 0.72 0.8 0.1
1.875 1 0.02 0.6 1.2 0.06
1.875 1.25 0.02 0.4 1.5 0.03
1.875 1.5 0.02 0.15 0.6 0.01
1.875 1.75 0 0.03 0.02 0
1.875 2 0 0 0 0
1.875 2.25 0 0 0 0
1.875 2.5 0 0 0 0
1.875 2.75 0 0 0 0
1.875 3 0 0 0 0
1.875 3.25 0 0 0 0
1.875 3.5 0 0 0 0
1.875 3.75 0 0 0 0
1.875 4 0 0 0 0
1.875 4.25 0 0 0 0
1.875 4.5 0 0 0 0
1.875 4.75 0 0 0 0
1.875 5 0 0 0 0
1.875 5.25 0 0 0 0
1.875 5.5 0 0 0 0
1.875 5.75 0 0 0 0
1.875 6 0 0 0 0
1.875 6.25 0 0 0 0
1.875 6.5 0 0 0 0
1.875 6.75 0 0 0 0
1.875 7 0 0 0 0
1.9375 0 0.02 0.3 0.3 0.2
1.9375 0.25 0.02 0.75 0.7 0.2
1.9375 0.5 0.02 0.6 1.35 0.1
1.9375 0.75 0.01 0.1 0.5 0.02
1.9375 1 0 0 0 0
1.9375 1.25 0 0 0 0
1.9375 1.5 0 0 0 0
1.9375 1.75 0 0 0 0
1.9375 2 0 0 0 0
1.9375 2.25 0 0 0 0
1.9375 2.5 0 0 0 0
1.9375 2.75 0 0 0 0
1.9375 3 0 0 0 0
1.9375 3.25 0 0 0 0
1.9375 3.5 0 0 0 0
1.9375 3.75 0 0 0 0
1.9375 4 0 0 0 0
1.9375 4.25 0 0 0 0
1.9375 4.5 0 0 0 0
1.9375 4.75 0 0 0 0
1.9375 5 0 0 0 0
1.9375 5.25 0 0 0 0
1.9375 5.5 0 0 0 0
1.9375 5.75 0 0 0 0
1.9375 6 0 0 0 0
1.9375 6.25 0 0 0 0
1.9375 6.5 0 0 0 0
1.9375 6.75 0 0 0 0
1.9375 7 0 0 0 0
2 0 0.02 0.4 0.6 0.3
2 0.25 0.01 0.05 0.1 0.05
2 0.5 0 0 0 0
2 0.75 0 0 0 0
2 1 0 0 0 0
2 1.25 0 0 0 0
2 1.5 0 0 0 0
2 1.75 0 0 0 0
2 2 0 0 0 0
2 2.25 0 0 0 0
2 2.5 0 0 0 0
2 2.75 0 0 0 0
2 3 0 0 0 0
2 3.25 0 0 0 0
2 3.5 0 0 0 0
2 3.75 0 0 0 0
2 4 0 0 0 0
2 4.25 0 0 0 0
2 4.5 0 0 0 0
2 4.75 0 0 0 0
2 5 0 0 0 0
2 5.25 0 0 0 0
2 5.5 0 0 0 0
2 5.75 0 0 0 0
2 6 0 0 0 0
2 6.25 0 0 0 0
2 6.5 0 0 0 0
2 6.75 0 0 0 0
2 7 0 0 0 0
2.0625 0 0.02 0.2 0.5 0.3
2.0625 0.25 0.02 0.7 1.1 0.7
2.0625 0.5 0.01 0.4 0.6 0.4
2.0625 0.75 0 0 0 0
2.0625 1 0 0 0 0
2.0625 1.25 0 0 0 0
2.0625 1.5 0 0 0 0
2.0625 1.75 0 0 0 0
2.0625 2 0 0 0 0
2.0625 2.25 0 0 0 0
2.0625 2.5 0 0 0 0
2.0625 2.75 0 0 0 0
2.0625 3 0 0 0 0
2.0625 3.25 0 0 0 0
2.0625 3.5 0 0 0 0
2.0625 3.75 0 0 0 0
2.0625 4 0 0 0 0
2.0625 4.25 0 0 0 0
2.0625 4.5 0 0 0 0
2.0625 4.75 0 0 0 0
2.0625 5 0 0 0 0
2.0625 5.25 0 0 0 0
2.0625 5.5 0 0 0 0
2.0625 5.75 0 0 0 0
2.0625 6 0 0 0 0
2.0625 6.25 0 0 0 0
2.0625 6.5 0 0 0 0
2.0625 6.75 0 0 0 0
2.0625 7 0 0 0 0
2.125 0 0.02 0.1 0.3 0.2
2.125 0.25 0.02 0.5 0.8 0.6
2.125 0.5 0.02 0.9 1.2 0.85
2.125 0.75 0.02 0.8 0.9 0.55
2.125 1 0.02 0.3 0.5 0.3
2.125 1.25 0 0.03 0.02 0.02
2.125 1.5 0 0 0 0
2.125 1.75 0 0 0 0
2.125 2 0 0 0 0
2.125 2.25 0 0 0 0
2.125 2.5 0 0 0 0
2.125 2.75 0 0 0 0
2.125 3 0 0 0 0
2.125 3.25 0 0 0 0
2.125 3.5 0 0 0 0
2.125 3.75 0 0 0 0
2.125 4 0 0 0 0
2.125 4.25 0 0 0 0
2.125 4.5 0 0 0 0
2.125 4.75 0 0 0 0
2.125 5 0 0 0 0
2.125 5.25 0 0 0 0
2.125 5.5 0 0 0 0
2.125 5.75 0 0 0 0
2.125 6 0 0 0 0
2.125 6.25 0 0 0 0
2.125 6.5 0 0 0 0
2.125 6.75 0 0 0 0
2.125 7 0 0 0 0
2.1875 0 0.02 0.09 0.2 0.14
2.1875 0.25 0.02 0.4 0.5 0.4
2.1875 0.5 0.02 0.75 0.9 0.7
2.1875 0.75 0.02 0.9 1.25 1.05
2.1875 1 0.02 0.75 0.95 0.8
2.1875 1.25 0.02 0.5 0.65 0.55
2.1875 1.5 0 0.15 0.1 0.08
2.1875 1.75 0 0 0 0
2.1875 2 0 0 0 0
2.1875 2.25 0 0 0 0
2.1875 2.5 0 0 0 0
2.1875 2.75 0 0 0 0
2.1875 3 0 0 0 0
2.1875 3.25 0 0 0 0
2.1875 3.5 0 0 0 0
2.1875 3.75 0 0 0 0
2.1875 4 0 0 0 0
2.1875 4.25 0 0 0 0
2.1875 4.5 0 0 0 0
2.1875 4.75 0 0 0 0
2.1875 5 0 0 0 0
2.1875 5.25 0 0 0 0
2.1875 5.5 0 0 0 0
2.1875 5.75 0 0 0 0
2.1875 6 0 0 0 0
2.1875 6.25 0 0 0 0
2.1875 6.5 0 0 0 0
2.1875 6.75 0 0 0 0
2.1875 7 0 0 0 0
2.25 0 0.02 0.08 0.1 0.08
2.25 0.25 0.02 0.3 0.3 0.2
2.25 0.5 0.02 0.55 0.6 0.4
2.25 0.75 0.02 0.75 0.95 0.75
2.25 1 0.02 0.85 1.25 1.15
2.25 1.25 0.02 0.8 1.15 1
2.25 1.5 0.02 0.7 0.8 0.75
2.25 1.75 0.02 0.45 0.6 0.55
2.25 2 0.02 0.1 0.05 0.05
2.25 2.25 0 0.01 0 0
2.25 2.5 0 0 0 0
2.25 2.75 0 0 0 0
2.25 3 0 0 0 0
2.25 3.25 0 0 0 0
2.25 3.5 0 0 0 0
2.25 3.75 0 0 0 0
2.25 4 0 0 0 0
2.25 4.25 0 0 0 0
2.25 4.5 0 0 0 0
2.25 4.75 0 0 0 0
2.25 5 0 0 0 0
2.25 5.25 0 0 0 0
2.25 5.5 0 0 0 0
2.25 5.75 0 0 0 0
2.25 6 0 0 0 0
2.25 6.25 0 0 0 0
2.25 6.5 0 0 0 0
2.25 6.75 0 0 0 0
2.25 7 0 0 0 0
2.3125 0 0.02 0.07 0.07 0.06
2.3125 0.25 0.02 0.25 0.2 0.15
2.3125 0.5 0.02 0.5 0.45 0.3
2.3125 0.75 0.02 0.72 0.72 0.55
2.3125 1 0.02 0.82 1.05 0.9
2.3125 1.25 0.02 0.78 1.25 1.2
2.3125 1.5 0.02 0.7 1.1 1
2.3125 1.75 0.02 0.55 0.75 0.7
2.3125 2 0.02 0.35 0.62 0.58
2.3125 2.25 0.02 0.1 0.2 0.15
2.3125 2.5 0 0 0 0
2.3125 2.75 0 0 0 0
2.3125 3 0 0 0 0
2.3125 3.25 0 0 0 0
2.3125 3.5 0 0 0 0
2.3125 3.75 0 0 0 0
2.3125 4 0 0 0 0
2.3125 4.25 0 0 0 0
2.3125 4.5 0 0 0 0
2.3125 4.75 0 0 0 0
2.3125 5 0 0 0 0
2.3125 5.25 0 0 0 0
2.3125 5.5 0 0 0 0
2.3125 5.75 0 0 0 0
2.3125 6 0 0 0 0
2.3125 6.25 0 0 0 0
2.3125 6.5 0 0 0 0
2.3125 6.75 0 0 0 0
2.3125 7 0 0 0 0
2.375 0 0.02 0.06 0.05 0.04
2.375 0.25 0.02 0.2 0.12 0.1
2.375 0.5 0.02 0.45 0.3 0.22
2.375 0.75 0.02 0.7 0.5 0.38
2.375 1 0.02 0.78 0.75 0.6
2.375 1.25 0.02 0.75 1.05 0.9
2.375 1.5 0.03 0.7 1.25 1.2
2.375 1.75 0.04 0.65 1.15 1
2.375 2 0.04 0.6 0.85 0.8
2.375 2.25 0.04 0.5 0.7 0.65
2.375 2.5 0.03 0.3 0.6 0.5
2.375 2.75 0.02 0.08 0.05 0.05
2.375 3 0 0 0 0
2.375 3.25 0 0 0 0
2.375 3.5 0 0 0 0
2.375 3.75 0 0 0 0
2.375 4 0 0 0 0
2.375 4.25 0 0 0 0
2.375 4.5 0 0 0 0
2.375 4.75 0 0 0 0
2.375 5 0 0 0 0
2.375 5.25 0 0 0 0
2.375 5.5 0 0 0 0
2.375 5.75 0 0 0 0
2.375 6 0 0 0 0
2.375 6.25 0 0 0 0
2.375 6.5 0 0 0 0
2.375 6.75 0 0 0 0
2.375 7 0 0 0 0
2.4375 0 0.02 0.05 0.04 0.03
2.4375 0.25 0.02 0.17 0.09 0.08
2.4375 0.5 0.02 0.4 0.22 0.17
2.4375 0.75 0.02 0.65 0.38 0.3
2.4375 1 0.02 0.75 0.6 0.48
2.4375 1.25 0.03 0.74 0.85 0.7
2.4375 1.5 0.04 0.69 1.1 1
2.4375 1.75 0.05 0.65 1.25 1.2
2.4375 2 0.06 0.61 1.1 1.05
2.4375 2.25 0.07 0.55 0.85 0.82
2.4375 2.5 0.07 0.45 0.7 0.65
2.4375 2.75 0.05 0.3 0.55 0.5
2.4375 3 0.02 0.05 0.05 0.05
2.4375 3.25 0 0 0 0
2.4375 3.5 0 0 0 0
2.4375 3.75 0 0 0 0
2.4375 4 0 0 0 0
2.4375 4.25 0 0 0 0
2.4375 4.5 0 0 0 0
2.4375 4.75 0 0 0 0
2.4375 5 0 0 0 0
2.4375 5.25 0 0 0 0
2.4375 5.5 0 0 0 0
2.4375 5.75 0 0 0 0
2.4375 6 0 0 0 0
2.4375 6.25 0 0 0 0
2.4375 6.5 0 0 0 0
2.4375 6.75 0 0 0 0
2.4375 7 0 0 0 0
2.5 0 0.02 0.05 0.03 0.03
2.5 0.25 0.02 0.15 0.06 0.06
2.5 0.5 0.02 0.35 0.15 0.12
2.5 0.75 0.02 0.6 0.28 0.22
2.5 1 0.02 0.72 0.45 0.35
2.5 1.25 0.03 0.72 0.65 0.5
2.5 1.5 0.05 0.68 0.9 0.75
2.5 1.75 0.07 0.64 1.15 1.05
2.5 2 0.09 0.62 1.25 1.25
2.5 2.25 0.11 0.6 1.1 1
2.5 2.5 0.12 0.56 0.85 0.8
2.5 2.75 0.11 0.45 0.7 0.65
2.5 3 0.1 0.25 0.6 0.5
2.5 3.25 0.05 0.05 0.15 0.1
2.5 3.5 0 0 0 0
2.5 3.75 0 0 0 0
2.5 4 0 0 0 0
2.5 4.25 0 0 0 0
2.5 4.5 0 0 0 0
2.5 4.75 0 0 0 0
2.5 5 0 0 0 0
2.5 5.25 0 0 0 0
2.5 5.5 0 0 0 0
2.5 5.75 0 0 0 0
2.5 6 0 0 0 0
2.5 6.25 0 0 0 0
2.5 6.5 0 0 0 0
2.5 6.75 0 0 0 0
2.5 7 0 0 0 0
2.625 0 0.02 0.08 0.03 0.03
2.625 0.25 0.02 0.12 0.05 0.05
2.625 0.5 0.03 0.22 0.1 0.08
2.625 0.75 0.04 0.4 0.18 0.14
2.625 1 0.06 0.55 0.3 0.24
2.625 1.25 0.08 0.62 0.45 0.36
2.625 1.5 0.12 0.64 0.65 0.5
2.625 1.75 0.15 0.64 0.85 0.7
2.625 2 0.18 0.62 1.1 0.95
2.625 2.25 0.2 0.6 1.25 1.25
2.625 2.5 0.22 0.58 1.15 1.15
2.625 2.75 0.24 0.55 0.9 0.88
2.625 3 0.22 0.5 0.75 0.72
2.625 3.25 0.2 0.38 0.65 0.6
2.625 3.5 0.12 0.18 0.5 0.45
2.625 3.75 0.05 0.03 0.03 0.05
2.625 4 0 0 0 0
2.625 4.25 0 0 0 0
2.625 4.5 0 0 0 0
2.625 4.75 0 0 0 0
2.625 5 0 0 0 0
2.625 5.25 0 0 0 0
2.625 5.5 0 0 0 0
2.625 5.75 0 0 0 0
2.625 6 0 0 0 0
2.625 6.25 0 0 0 0
2.625 6.5 0 0 0 0
2.625 6.75 0 0 0 0
2.625 7 0 0 0 0
2.75 0 0.03 0.1 0.03 0.03
2.75 0.25 0.04 0.12 0.04 0.04
2.75 0.5 0.05 0.15 0.07 0.06
2.75 0.75 0.07 0.22 0.13 0.1
2.75 1 0.1 0.32 0.22 0.18
2.75 1.25 0.14 0.42 0.35 0.28
2.75 1.5 0.18 0.5 0.5 0.4
2.75 1.75 0.22 0.55 0.68 0.55
2.75 2 0.25 0.58 0.88 0.72
2.75 2.25 0.28 0.58 1.1 0.95
2.75 2.5 0.3 0.58 1.25 1.25
2.75 2.75 0.35 0.56 1.2 1.2
2.75 3 0.38 0.55 0.95 0.92
2.75 3.25 0.38 0.52 0.78 0.75
2.75 3.5 0.35 0.45 0.68 0.65
2.75 3.75 0.25 0.3 0.55 0.55
2.75 4 0.08 0.1 0.1 0.1
2.75 4.25 0 0 0 0
2.75 4.5 0 0 0 0
2.75 4.75 0 0 0 0
2.75 5 0 0 0 0
2.75 5.25 0 0 0 0
2.75 5.5 0 0 0 0
2.75 5.75 0 0 0 0
2.75 6 0 0 0 0
2.75 6.25 0 0 0 0
2.75 6.5 0 0 0 0
2.75 6.75 0 0 0 0
2.75 7 0 0 0 0
2.875 0 0.05 0.12 0.03 0.03
2.875 0.25 0.06 0.12 0.04 0.04
2.875 0.5 0.08 0.13 0.06 0.06
2.875 0.75 0.1 0.15 0.1 0.09
2.875 1 0.13 0.2 0.18 0.15
2.875 1.25 0.17 0.27 0.28 0.24
2.875 1.5 0.22 0.34 0.42 0.35
2.875 1.75 0.26 0.4 0.58 0.5
2.875 2 0.3 0.46 0.75 0.65
2.875 2.25 0.34 0.5 0.92 0.82
2.875 2.5 0.38 0.53 1.12 1.05
2.875 2.75 0.45 0.55 1.28 1.3
2.875 3 0.45 0.56 1.15 1.1
2.875 3.25 0.47 0.56 0.9 0.85
2.875 3.5 0.48 0.55 0.75 0.72
2.875 3.75 0.45 0.45 0.65 0.65
2.875 4 0.3 0.2 0.45 0.48
2.875 4.25 0.05 0.02 0.02 0.03
2.875 4.5 0 0 0 0
2.875 4.75 0 0 0 0
2.875 5 0 0 0 0
2.875 5.25 0 0 0 0
2.875 5.5 0 0 0 0
2.875 5.75 0 0 0 0
2.875 6 0 0 0 0
2.875 6.25 0 0 0 0
2.875 6.5 0 0 0 0
2.875 6.75 0 0 0 0
2.875 7 0 0 0 0
3 0 0.12 0.12 0.03 0.03
3 0.25 0.12 0.12 0.04 0.04
3 0.5 0.13 0.13 0.06 0.06
3 0.75 0.14 0.14 0.1 0.09
3 1 0.16 0.16 0.17 0.14
3 1.25 0.2 0.2 0.25 0.22
3 1.5 0.25 0.25 0.36 0.33
3 1.75 0.3 0.3 0.5 0.46
3 2 0.35 0.36 0.65 0.6
3 2.25 0.4 0.42 0.8 0.75
3 2.5 0.45 0.48 1 0.95
3 2.75 0.5 0.53 1.2 1.25
3 3 0.52 0.56 1.15 1.15
3 3.25 0.55 0.58 0.95 0.88
3 3.5 0.55 0.58 0.8 0.74
3 3.75 0.52 0.55 0.7 0.66
3 4 0.35 0.38 0.55 0.5
3 4.25 0.05 0.05 0.03 0.03
3 4.5 0 0 0 0
3 4.75 0 0 0 0
3 5 0 0 0 0
3 5.25 0 0 0 0
3 5.5 0 0 0 0
3 5.75 0 0 0 0
3 6 0 0 0 0
3 6.25 0 0 0 0
3 6.5 0 0 0 0
3 6.75 0 0 0 0
3 7 0 0 0 0
}\hm
\newcommand{\boundary}{%
 \addplot[bound] coordinates {(0,4.2) (0.125,4.28) (0.25,4.55) (0.375,5.0) (0.5,5.6) (0.625,6.1) (0.75,6.5) (0.875,6.73) (1,6.8) (1.125,6.72) (1.25,6.4) (1.375,5.8) (1.5,5.0) (1.625,4.05) (1.75,2.85) (1.875,1.5) (2,0.05)};
 \addplot[bound] coordinates {(2,0.05) (2.125,1.05) (2.25,1.95) (2.375,2.7) (2.5,3.25) (2.625,3.65) (2.75,3.95) (2.875,4.13) (3,4.2)};
 \addplot[vdash] coordinates {(1,8) (1,0)};
 \addplot[vdash] coordinates {(2,8) (2,0)};
}
\newcommand{\heat}[1]{\addplot[surf, shader=interp, mesh/ordering=y varies, mesh/rows=29, mesh/cols=39, point meta=explicit] table[x=x, y=y, meta=#1] {\hm};}
\begin{document}
\begin{tikzpicture}
\useasboundingbox (0,0) rectangle (872bp,590bp);
% (a)
\begin{axis}[panel, at={(27bp,335.5bp)}, width=357bp, height=235.2bp,
  point meta min=0, point meta max=1.2,
  colorbar style={height=235.2bp, ytick={0,0.4,0.8,1.2}, yticklabels={0,0.4,0.8,1.2}, minor ytick={0.2,0.6,1}}]
\heat{a}
\boundary
\end{axis}
% (b)
\begin{axis}[panel, at={(469.5bp,333.3bp)}, width=357.5bp, height=234bp,
  point meta min=0, point meta max=1.2,
  colorbar style={height=234bp, ytick={0,0.4,0.8,1.2}, yticklabels={0,0.4,0.8,1.2}, minor ytick={0.2,0.6,1}}]
\heat{b}
\boundary
\end{axis}
% (c)
\begin{axis}[panel, at={(26bp,28.3bp)}, width=357bp, height=234.4bp,
  point meta min=0, point meta max=1.6,
  colorbar style={height=234.4bp, ytick={0,0.4,0.8,1.2,1.6}, yticklabels={0,0.4,0.8,1.2,1.6}, minor ytick={0.2,0.6,1,1.4}}]
\heat{c}
\boundary
\end{axis}
% (d)
\begin{axis}[panel, at={(471.5bp,28.3bp)}, width=356.5bp, height=234.4bp,
  point meta min=0, point meta max=1.6,
  colorbar style={height=234.4bp, ytick={0,0.4,0.8,1.2,1.6}, yticklabels={0,0.4,0.8,1.2,1.6}, minor ytick={0.2,0.6,1,1.4}}]
\heat{d}
\boundary
\end{axis}
% panel letters
\node[font=\fontsize{13}{13}\selectfont] at (41bp,580.5bp) {(a)};
\node[font=\fontsize{13}{13}\selectfont] at (479.5bp,580bp) {(b)};
\node[font=\fontsize{13}{13}\selectfont] at (40.5bp,272bp) {(c)};
\node[font=\fontsize{13}{13}\selectfont] at (485.5bp,272bp) {(d)};
% axis labels
\foreach \p in {(4.5bp,480bp),(447.5bp,478.5bp),(4.5bp,171.5bp),(447.5bp,174bp)}
  \node[font=\fontsize{13}{13}\selectfont] at \p {ω};
\foreach \p in {(205.5bp,315.5bp),(648bp,310.5bp),(204.5bp,10.5bp),(650bp,11bp)}
  \node[anchor=base, font=\fontsize{15}{15}\selectfont\bfseries] at \p {q};
% titles
\node[anchor=base west, text=white, inner sep=0, font=\fontsize{17}{17}\selectfont] at (36bp,549.3bp) {Imκ{\fontsize{10}{10}\selectfont 11}(\textbf{q},ω)};
\node[anchor=base west, text=white, inner sep=0, font=\fontsize{17}{17}\selectfont] at (480.3bp,548.3bp) {Imκ{\fontsize{10}{10}\selectfont 22}(\textbf{q},ω)};
\node[anchor=base west, text=white, inner sep=0, font=\fontsize{17}{17}\selectfont] at (36bp,242bp) {Imκ{\fontsize{10}{10}\selectfont 33}(\textbf{q},ω)};
\node[anchor=base west, text=white, inner sep=0, font=\fontsize{17}{17}\selectfont] at (481bp,242bp) {Imκ{\fontsize{10}{10}\selectfont 44}(\textbf{q},ω)};
% parameters
\node[anchor=base east, text=white, inner sep=0, font=\fontsize{13.5}{13.5}\selectfont] at (369.3bp,548.3bp) {\textit{n}=1.11};
\node[anchor=base east, text=white, inner sep=0, font=\fontsize{13.5}{13.5}\selectfont] at (369.3bp,528.3bp) {\textit{T}=0.01};
\node[anchor=base east, text=white, inner sep=0, font=\fontsize{13.5}{13.5}\selectfont] at (816bp,549.3bp) {\textit{n}=1.11};
\node[anchor=base east, text=white, inner sep=0, font=\fontsize{13.5}{13.5}\selectfont] at (816bp,529bp) {\textit{T}=0.01};
\node[anchor=base east, text=white, inner sep=0, font=\fontsize{13.5}{13.5}\selectfont] at (370.7bp,244bp) {\textit{n}=1.11};
\node[anchor=base east, text=white, inner sep=0, font=\fontsize{13.5}{13.5}\selectfont] at (370.7bp,225bp) {\textit{T}=0.01};
\node[anchor=base east, text=white, inner sep=0, font=\fontsize{13.5}{13.5}\selectfont] at (816bp,245bp) {\textit{n}=1.11};
\node[anchor=base east, text=white, inner sep=0, font=\fontsize{13.5}{13.5}\selectfont] at (816bp,225.7bp) {\textit{T}=0.01};
\end{tikzpicture}
\end{document}
